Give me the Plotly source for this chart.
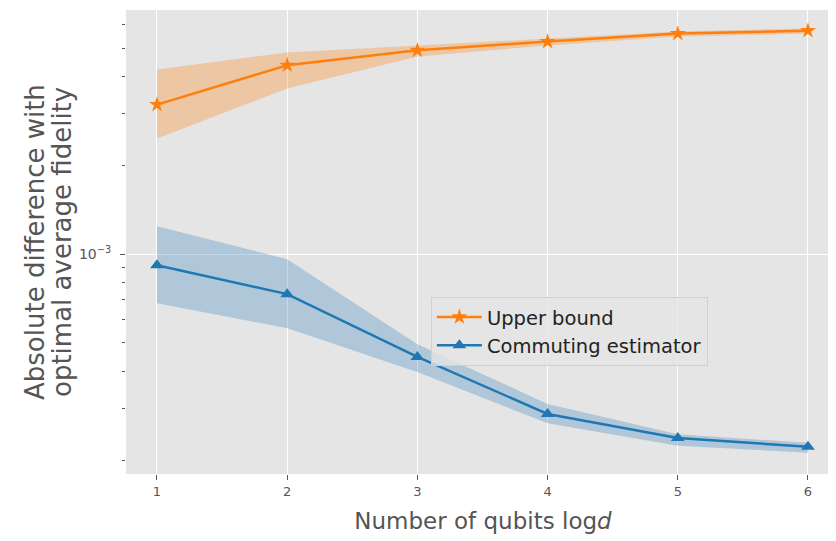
import plotly.graph_objects as go

qubits = [1, 2, 3, 4, 5, 6]

upper_mean = [3.22e-3, 4.38e-3, 4.92e-3, 5.27e-3, 5.61e-3, 5.74e-3]
upper_hi = [4.24e-3, 4.84e-3, 5.11e-3, 5.40e-3, 5.70e-3, 5.84e-3]
upper_lo = [2.47e-3, 3.65e-3, 4.69e-3, 5.11e-3, 5.48e-3, 5.61e-3]

comm_mean = [9.18e-4, 7.32e-4, 4.48e-4, 2.87e-4, 2.38e-4, 2.22e-4]
comm_hi = [1.244e-3, 9.62e-4, 4.95e-4, 3.10e-4, 2.45e-4, 2.29e-4]
comm_lo = [6.82e-4, 5.61e-4, 3.98e-4, 2.67e-4, 2.24e-4, 2.12e-4]

x_ticks = [1, 2, 3, 4, 5, 6]
y_major = [1e-3]
y_major_text = ["10<sup>−3</sup>"]
y_minor = [2e-4, 3e-4, 4e-4, 5e-4, 6e-4, 7e-4, 8e-4, 9e-4,
           2e-3, 3e-3, 4e-3, 5e-3, 6e-3]
y_title_lines = ["Absolute difference with", "optimal average fidelity"]

ORANGE = "#ff7f0e"
BLUE = "#1f77b4"

fig = go.Figure()

# bands
fig.add_trace(go.Scatter(x=qubits, y=upper_lo, mode="lines", line=dict(width=0),
                         showlegend=False, hoverinfo="skip"))
fig.add_trace(go.Scatter(x=qubits, y=upper_hi, mode="lines", line=dict(width=0),
                         fill="tonexty", fillcolor="rgba(255,127,14,0.3)",
                         showlegend=False, hoverinfo="skip"))
fig.add_trace(go.Scatter(x=qubits, y=comm_lo, mode="lines", line=dict(width=0),
                         showlegend=False, hoverinfo="skip"))
fig.add_trace(go.Scatter(x=qubits, y=comm_hi, mode="lines", line=dict(width=0),
                         fill="tonexty", fillcolor="rgba(31,119,180,0.27)",
                         showlegend=False, hoverinfo="skip"))

# lines
fig.add_trace(go.Scatter(x=qubits, y=upper_mean, mode="lines+markers", name="Upper bound",
                         line=dict(color=ORANGE, width=2.5),
                         marker=dict(symbol="star", size=12, color=ORANGE)))
fig.add_trace(go.Scatter(x=qubits, y=comm_mean, mode="lines+markers", name="Commuting estimator",
                         line=dict(color=BLUE, width=2.5),
                         marker=dict(symbol="triangle-up", size=12, color=BLUE)))

annots = []
for line_text, shift in zip(y_title_lines, [-91, -64]):
    annots.append(dict(
        text=line_text,
        xref="paper", yref="paper", x=0, y=0.5, xshift=shift,
        xanchor="center", yanchor="middle",
        textangle=-90, showarrow=False, font=dict(size=26, color="#555555"),
    ))

fig.update_layout(
    width=836, height=541,
    margin=dict(l=118, r=4, t=2, b=75),
    paper_bgcolor="white",
    plot_bgcolor="#E5E5E5",
    font=dict(family="DejaVu Sans", color="#555555"),
    legend=dict(
        x=0.427, y=0.382, xanchor="left", yanchor="top",
        traceorder="normal",
        bgcolor="rgba(229,229,229,0.8)", bordercolor="#D0D0D0", borderwidth=1,
        font=dict(size=19.5, color="#222222"),
        itemwidth=45,
    ),
    annotations=annots,
)

fig.update_xaxes(
    range=[0.762, 6.246],
    tickvals=x_ticks, ticktext=[str(t) for t in x_ticks],
    showgrid=True, gridcolor="white", gridwidth=1,
    zeroline=False, showline=False, automargin=False,
    ticks="outside", ticklen=5, tickwidth=1, tickcolor="#555555",
    tickfont=dict(size=13, color="#555555"),
    title=dict(text="Number of qubits log<i>d</i>", font=dict(size=23, color="#555555")),
)

fig.update_yaxes(
    type="log",
    range=[-3.746, -2.171],
    tickvals=y_major, ticktext=y_major_text,
    showgrid=True, gridcolor="white", gridwidth=1,
    zeroline=False, showline=False, automargin=False,
    ticks="outside", ticklen=5, tickwidth=1, tickcolor="#555555",
    tickfont=dict(size=14, color="#555555"),
    ticklabelstandoff=6,
    minor=dict(tickvals=y_minor, ticks="outside", ticklen=3, tickwidth=1,
               tickcolor="#555555", showgrid=False),
)

fig.write_html("out.html")
